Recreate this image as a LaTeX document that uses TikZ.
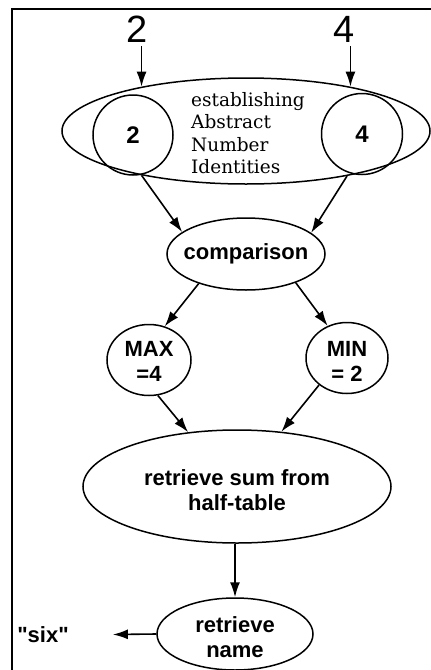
\documentclass[tikz,border=0pt]{standalone}
\usepackage{fontspec}
\setmainfont{Liberation Sans}
\newfontfamily\serifA{DejaVu Serif}
\newfontfamily\plainsans{Liberation Sans}
\usetikzlibrary{shapes.geometric,arrows.meta}
\begin{document}
\begin{tikzpicture}[x=1pt,y=-1pt,
  arr/.style={-{Latex[length=15pt,width=10pt]}, line width=1.6pt},
  oval/.style={draw, ellipse, inner sep=0pt, line width=1.5pt},
  ring/.style={draw, circle, inner sep=0pt, line width=1.5pt},
  lab/.style={font=\fontsize{22}{25}\selectfont\bfseries, align=center, inner sep=0pt},
  big/.style={font=\fontsize{38}{40}\selectfont, inner sep=0pt},
]
\useasboundingbox (0,0) rectangle (431,670);
\draw[line width=1.8pt] (12,670) -- (12,9) -- (431,9);

% inputs
\node[big] (t2) at (137,29) {2};
\node[big] (t4) at (344,29) {4};

% abstract number identities
\node[oval, minimum width=368pt, minimum height=106pt] (ani) at (246,131) {};
\node[ring, minimum size=80pt, lab, font=\fontsize{24}{25}\selectfont\bfseries] (c2) at (133,135) {2};
\node[ring, minimum size=81pt, lab, font=\fontsize{24}{25}\selectfont\bfseries] (c4) at (362,134) {4};
\node[font=\serifA\fontsize{18.5}{22.3}\selectfont, align=left, inner sep=0pt] (anit) at (248,133) {establishing\\Abstract\\Number\\Identities};

% comparison
\node[oval, minimum width=158pt, minimum height=72pt] (comp) at (246,254) {};
\node[lab] (compt) at (246,254) {comparison};

% max / min
\node[oval, minimum width=84pt, minimum height=71pt] (max) at (149,360) {};
\node[lab] (maxt) at (149,361) {MAX\\=4};
\node[oval, minimum width=82pt, minimum height=71pt] (min) at (347,358) {};
\node[lab] (mint) at (347,361) {MIN\\= 2};

% retrieve sum
\node[oval, minimum width=308pt, minimum height=113pt] (sum) at (237,486.5) {};
\node[lab] (sumt) at (237,490) {retrieve sum from\\half-table};

% retrieve name
\node[oval, minimum width=156pt, minimum height=72pt] (name) at (235,634) {};
\node[lab] (namet) at (235,637) {retrieve\\name};
\node[lab, font=\plainsans\fontsize{22}{25}\selectfont\bfseries] (six) at (43,635) {"six"};

% connectors
\draw[arr, shorten <=4pt] (t2.south -| ani.157.5) -- (ani.157.5);
\draw[arr, shorten <=4pt] (t4.south -| ani.23.7) -- (ani.23.7);
\draw[arr] (ani.203.7) -- (comp.161.6);
\draw[arr] (ani.336.6) -- (comp.18);
\draw[arr] (comp.212) -- (max.65);
\draw[arr] (comp.330.4) -- (min.121.6);
\draw[arr] (max.284) -- (sum.132.8);
\draw[arr] (min.224.5) -- (sum.51);
\draw[arr] (sum.south -| name.north) -- (name.north);
\draw[arr, shorten >=44pt] (name.west) -- (six.east);
\end{tikzpicture}
\end{document}
